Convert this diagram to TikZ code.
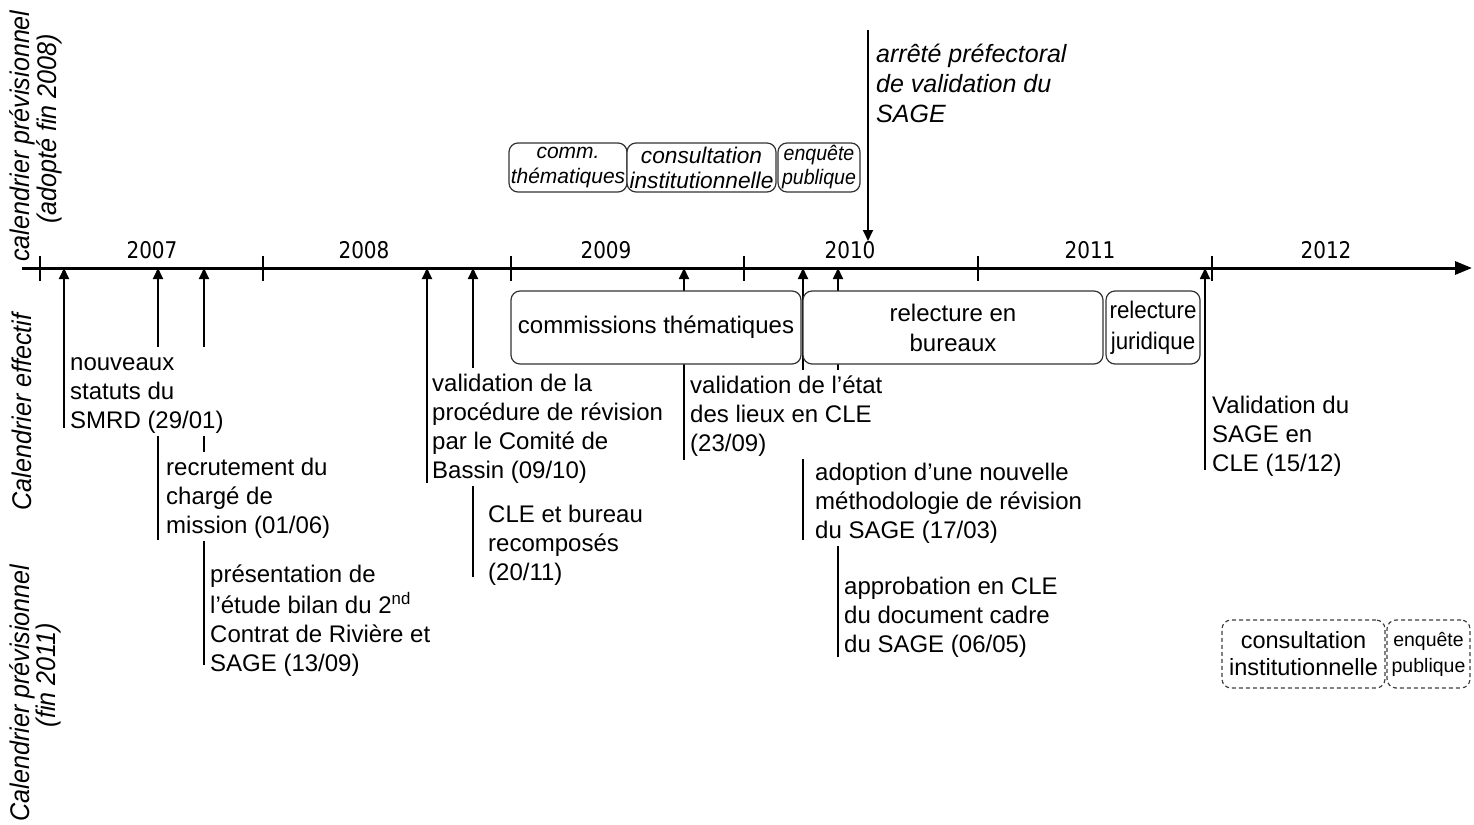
\documentclass[tikz,border=0pt]{standalone}
\usepackage{fontspec}
\setmainfont{Liberation Sans}
\newfontfamily\yearfont[FakeStretch=0.87]{DejaVu Sans}
\newfontfamily\sidefont[FakeStretch=0.93]{Liberation Sans}
\newfontfamily\narrowfont[FakeStretch=0.93]{Liberation Sans}
\usetikzlibrary{arrows.meta}
\begin{document}
\begin{tikzpicture}[x=1pt,y=-1pt,
  evt/.style={line width=1.8pt, -{Triangle[length=11pt,width=10pt]}},
  lbl/.style={anchor=north west, align=left, inner sep=3pt, fill=white, font=\fontsize{24}{29}\selectfont},
  yr/.style={font=\yearfont\fontsize{23}{26}\selectfont, inner sep=0pt},
  tickmark/.style={line width=1.5pt},
  side/.style={rotate=90, inner sep=0pt, font=\sidefont\fontsize{27}{30}\selectfont\itshape},
  box/.style={draw=black!80, line width=1.2pt, rounded corners=9pt, fill=white, inner sep=0pt, align=center},
  dbox/.style={box, dashed, dash pattern=on 4pt off 3pt, draw=black!75},
]
\useasboundingbox (0,0) rectangle (1474,824);

% side labels
\node[side] (s1) at (22,136) {calendrier prévisionnel};
\node[side] (s2) at (49,129) {(adopté fin 2008)};
\node[side] (s3) at (22,412) {Calendrier effectif};
\node[side] (s4) at (22,693) {Calendrier prévisionnel};
\node[side] (s5) at (49,675) {(fin 2011)};

% axis
\coordinate (axs) at (22,268);
\coordinate (axe) at (1472,268);
\draw[line width=3pt, -{Triangle[length=17pt,width=13pt]}] (axs) -- (axe);
\foreach \x/\n in {40/k1,263/k2,511/k3,744/k4,978/k5,1212/k6}{
  \coordinate (\n a) at (\x,256);
  \coordinate (\n b) at (\x,281);
  \draw[tickmark] (\n a) -- (\n b);
}
\node[yr] (y7) at (152,250) {2007};
\node[yr] (y8) at (364,250) {2008};
\node[yr] (y9) at (606,250) {2009};
\node[yr] (y10) at (850,250) {2010};
\node[yr] (y11) at (1090,250) {2011};
\node[yr] (y12) at (1326,250) {2012};

% event lines
\foreach \x/\yb/\n in {64/428/e1,158/540/e2,204/665/e3,427/483/e4,473/577/e5,684/460/e6,803/540/e7,838/657/e8,1205/470/e9}{
  \coordinate (\n) at (\x,\yb);
  \draw[evt] (\n) -- (\n |- axs);
}

% top arrow
\coordinate (ta) at (868,30);
\coordinate (tb) at (868,241);
\draw[evt] (ta) -- (tb);
\node[anchor=north west, align=left, inner sep=0pt, font=\fontsize{25}{30}\selectfont\itshape] (tt) at (876,41)
  {\strut arrêté préfectoral\\de validation du\\SAGE};

% top boxes
\node[box, font=\fontsize{21}{25}\selectfont\itshape, minimum width=118pt, minimum height=49pt] (tb1) at (568,167.5) {comm.\\thématiques};
\node[box, font=\fontsize{22.7}{25}\selectfont\itshape, minimum width=149pt, minimum height=49pt] (tb2) at (701.5,167.5) {consultation\\institutionnelle};
\node[box, font=\narrowfont\fontsize{21}{24}\selectfont\itshape, minimum width=82pt, minimum height=49pt] (tb3) at (819,167.5) {enquête\\publique};

% boxes below axis
\node[box, font=\fontsize{24}{30}\selectfont, minimum width=290pt, minimum height=73pt] (b1) at (656,327.5) {commissions thématiques};
\node[box, font=\fontsize{24}{30}\selectfont, minimum width=300pt, minimum height=73pt] (b2) at (953,327.5) {relecture en\\bureaux};
\node[box, font=\narrowfont\fontsize{24}{31}\selectfont, minimum width=94pt, minimum height=73pt] (b3) at (1153,327.5) {relecture\\juridique};

% event texts
\node[lbl] (t1) at (67,347) {\strut nouveaux\\statuts du\\SMRD (29/01)};
\node[lbl] (t2) at (163,452) {\strut recrutement du\\chargé de\\mission (01/06)};
\node[lbl] (t3) at (207,559) {\strut présentation de\\l’étude bilan du 2\textsuperscript{nd}\\Contrat de Rivière et\\SAGE (13/09)};
\node[lbl] (t4) at (429,368) {\strut validation de la\\procédure de révision\\par le Comité de\\Bassin (09/10)};
\node[lbl] (t5) at (485,499) {\strut CLE et bureau\\recomposés\\(20/11)};
\node[lbl] (t6) at (687,370) {\strut validation de l’état\\des lieux en CLE\\(23/09)};
\node[lbl] (t7) at (812,457) {\strut adoption d’une nouvelle\\méthodologie de révision\\du SAGE (17/03)};
\node[lbl] (t8) at (841,571) {\strut approbation en CLE\\du document cadre\\du SAGE (06/05)};
\node[lbl] (t9) at (1209,390) {\strut Validation du\\SAGE en\\CLE (15/12)};

% planned boxes (dashed)
\node[dbox, font=\fontsize{23.5}{27}\selectfont, minimum width=163pt, minimum height=68pt] (d1) at (1303.5,654) {consultation\\institutionnelle};
\node[dbox, font=\fontsize{19.5}{26}\selectfont, minimum width=83pt, minimum height=68pt] (d2) at (1428.5,654) {enquête\\publique};
\end{tikzpicture}
\end{document}
